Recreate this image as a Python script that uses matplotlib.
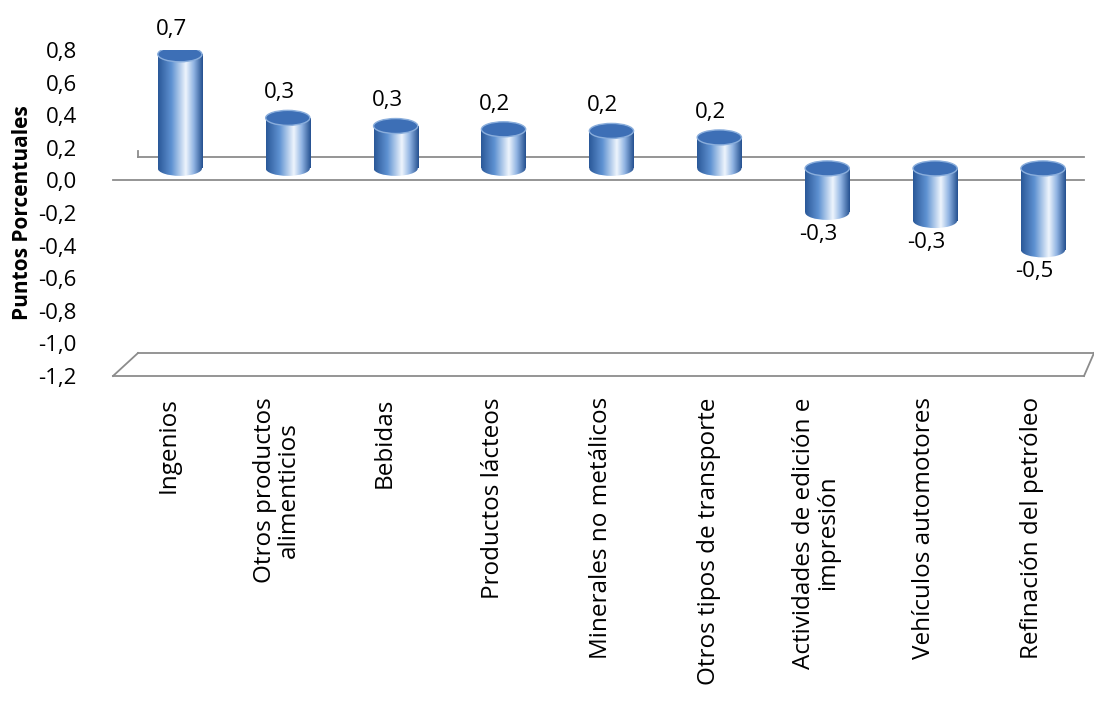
import numpy as np
import matplotlib
matplotlib.use("Agg")
import matplotlib.pyplot as plt
from matplotlib.patches import Ellipse, Rectangle
from matplotlib.colors import LinearSegmentedColormap

plt.rcParams['font.family'] = ['Open Sans', 'DejaVu Sans']

categories = ["Ingenios", "Otros productos\nalimenticios", "Bebidas", "Productos lácteos",
              "Minerales no metálicos", "Otros tipos de transporte",
              "Actividades de edición e\nimpresión", "Vehículos automotores",
              "Refinación del petróleo"]
values = [0.70, 0.31, 0.26, 0.24, 0.23, 0.19, -0.27, -0.32, -0.50]
yticks = [0.8, 0.6, 0.4, 0.2, 0.0, -0.2, -0.4, -0.6, -0.8, -1.0, -1.2]

W, H = 1094, 714
fig = plt.figure(figsize=(W/100, H/100), dpi=100)
ax = fig.add_axes([113/W, 1-376/H, (1084-113)/W, 326/H])
ax.set_xlim(-0.62, 8.38)
ax.set_ylim(-1.2, 0.8)
for s in ax.spines.values():
    s.set_visible(False)
ax.set_xticks([])
ax.set_yticks(yticks)
ax.set_yticklabels([f"{v:.1f}".replace(".", ",").replace("-0,0", "0,0") for v in yticks], fontsize=16)
ax.tick_params(axis="y", length=0, pad=26)
ax.set_ylabel("Puntos Porcentuales", fontsize=15, fontweight="bold", labelpad=4)

px = 1/163.0
pxx = 9.0/(1084-113)
dy = 23*px
dx = 25*pxx
bdy = 12*px
gc = "#8c8c8c"
ax.plot([-0.62, 8.38], [0, 0], color=gc, lw=1.3, clip_on=False)
ax.plot([-0.62+dx, 8.38], [dy, dy], color=gc, lw=1.3, clip_on=False)
ax.plot([-0.62+dx, -0.62+dx], [dy, dy+0.04], color=gc, lw=1.3, clip_on=False)
ax.plot([-0.62, 8.38], [-1.2, -1.2], color=gc, lw=1.3, clip_on=False)
ax.plot([-0.62+dx, 8.38+10*pxx], [-1.2+dy, -1.2+dy], color=gc, lw=1.3, clip_on=False)
ax.plot([-0.62, -0.62+dx], [-1.2, -1.2+dy], color=gc, lw=1.3, clip_on=False)
ax.plot([8.38, 8.38+10*pxx], [-1.2, -1.2+dy], color=gc, lw=1.3, clip_on=False)

cmap = LinearSegmentedColormap.from_list(
    "cyl", [(0, "#2a5898"), (0.3, "#5f92d2"), (0.62, "#eef5fd"), (0.8, "#8fb3e2"), (1, "#24508f")])
grad = np.linspace(0, 1, 256).reshape(1, -1)
w = 0.41
eh = 15*px
for i, v in enumerate(values):
    x = i
    lo, hi = (bdy, bdy+v) if v >= 0 else (bdy+v, bdy)
    rect = Rectangle((x-w/2, lo), w, hi-lo, transform=ax.transData, fc="none", ec="none")
    ax.add_patch(rect)
    im = ax.imshow(grad, cmap=cmap, extent=[x-w/2, x+w/2, lo, hi], aspect="auto", zorder=2)
    im.set_clip_path(rect)
    be = Ellipse((x, lo), w, eh, fc="none", ec="none")
    ax.add_patch(be)
    im2 = ax.imshow(grad, cmap=cmap, extent=[x-w/2, x+w/2, lo-eh, lo+eh], aspect="auto", zorder=2)
    im2.set_clip_path(be)
    ax.add_patch(Ellipse((x, hi), w, eh, fc="#3d6fb6", ec="#8aaedc", lw=1, zorder=3))
    lab = f"{v:.1f}".replace(".", ",")
    if v >= 0:
        ax.text(x - 0.08, hi + 0.09, lab, ha="center", va="bottom", fontsize=16)
    else:
        ax.text(x - 0.08, lo - 0.07, lab, ha="center", va="top", fontsize=16)
    ax.text(x - 0.1, -1.33, categories[i], rotation=90, ha="center", va="top",
            fontsize=17.5, multialignment="center", linespacing=1.0)

fig.savefig("out.png", dpi=100)
